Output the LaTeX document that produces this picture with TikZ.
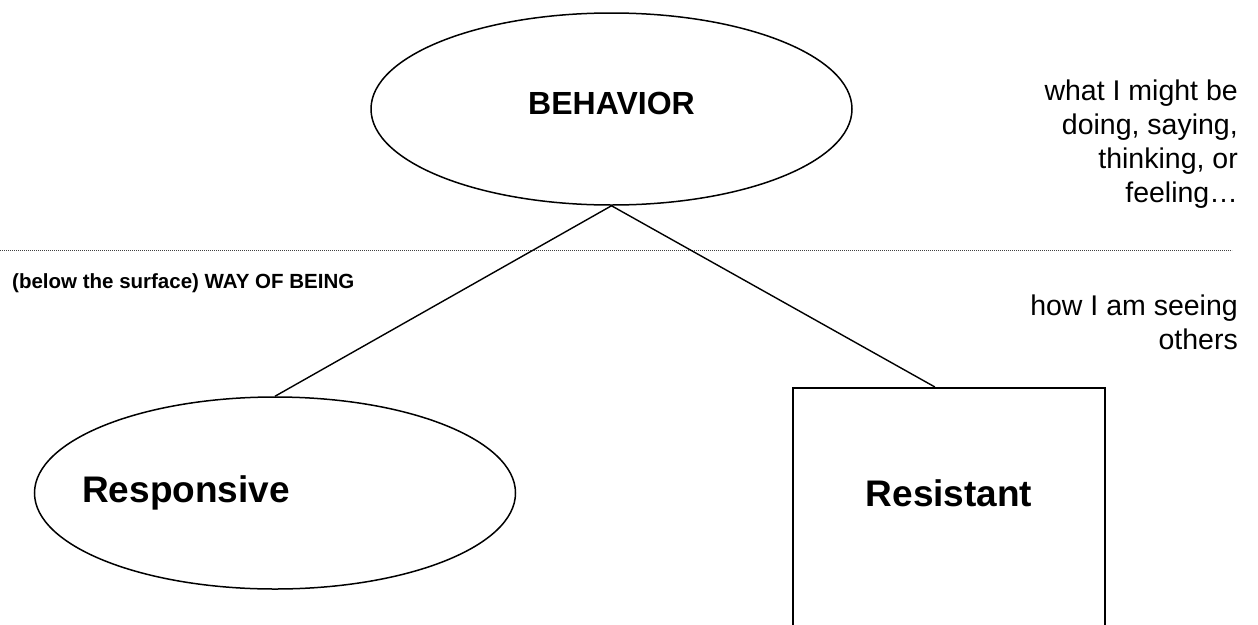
\documentclass[tikz,border=0pt]{standalone}
\usepackage{fontspec}
\setmainfont{Liberation Sans}
\usetikzlibrary{shapes.geometric,calc}
\begin{document}
\begin{tikzpicture}[x=1pt,y=-1pt,
                        oval/.style = {draw,ellipse,line width=1.5pt,minimum width=481pt,minimum height=192pt,inner sep=0pt},
                        box/.style = {draw,rectangle,line width=1.5pt,minimum width=312pt,minimum height=300pt,inner sep=0pt},
                        bigtxt/.style = {inner sep=0pt,font=\fontsize{37}{44}\selectfont\bfseries},
                        note/.style = {align=right,inner sep=0pt,font=\fontsize{28.5}{34}\selectfont},
                        surface/.style = {line width=0.7pt,dash pattern=on 0.7pt off 1.3pt,black!75},
                        link/.style = {line width=1.4pt}]
                        \useasboundingbox (0,0) rectangle (1258,624);
                        \clip (0,0) rectangle (1258,624);

                        \node[oval,text depth=12pt,font=\fontsize{32}{38}\selectfont\bfseries] (behavior) at (611.5,109) {BEHAVIOR};
                        \node[oval] (responsive) at (275,493) {};
                        \node[bigtxt] (responsivelbl) at (186,493) {Responsive};
                        \node[box,anchor=north,text depth=90pt,font=\fontsize{37}{44}\selectfont\bfseries] (resistant) at (949,387) {Resistant};

                        \coordinate (surfl) at (0,250);
                        \coordinate (surfr) at (1232,250);
                        \draw[surface] (surfl) -- (surfr);

                        \draw[link] (behavior.south) -- (responsive.north);
                        \draw[link] (behavior.south) -- ($(resistant.north west)!0.455!(resistant.north east)$);

                        \node[note,anchor=east] (doing) at (1238,144) {what I might be\\doing, saying,\\thinking, or\\feeling\dots};
                        \node[note,anchor=east] (seeing) at (1238,322) {how I am seeing\\others};
                        \node[anchor=west,inner sep=0pt,font=\fontsize{20.5}{24}\selectfont\bfseries] (below) at (12,283) {(below the surface) WAY OF BEING};
                    \end{tikzpicture}
\end{document}
